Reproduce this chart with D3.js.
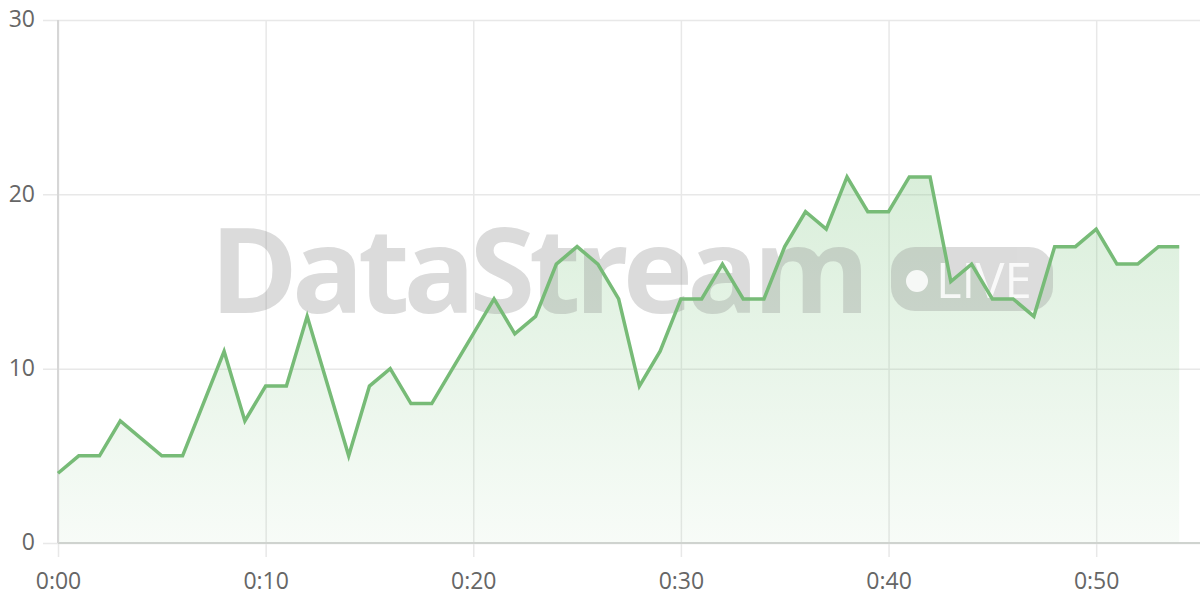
<!DOCTYPE html>
<html>
<head>
<meta charset="utf-8">
<script src="https://cdn.jsdelivr.net/npm/d3@7"></script>
<style>
	html, body { margin: 0; padding: 0; background: #fff; }
	#chart { width: 1200px; height: 600px; }
	.tick text { font-family: "Open Sans", sans-serif; font-size: 23px; fill: #666; }
</style>
</head>
<body>
<div id="chart"></div>
<script>
// values per minute, 0:00 .. 0:54
var minutes = d3.range(0, 55);
var values = [4, 5, 5, 7, 6, 5, 5, 8, 11, 7,
	9, 9, 13, 9, 5, 9, 10, 8, 8, 10,
	12, 14, 12, 13, 16, 17, 16, 14, 9, 11,
	14, 14, 16, 14, 14, 17, 19, 18, 21, 19,
	19, 21, 21, 15, 16, 14, 14, 13, 17, 17,
	18, 16, 16, 17, 17];
var xTicks = [0, 10, 20, 30, 40, 50];
var yTicks = [0, 10, 20, 30];

function fmtTime(m) {
	return Math.floor(m / 60) + ":" + d3.format("02d")(m % 60);
}

var width = 1200, height = 600;
var margin = { top: 20, right: 0, bottom: 57, left: 58 };

var svg = d3.select("#chart").append("svg")
	.attr("width", width)
	.attr("height", height);

var x = d3.scaleLinear().domain([0, 55]).range([margin.left, width - margin.right]);
var y = d3.scaleLinear().domain([0, 30]).range([height - margin.bottom, margin.top]);

var data = minutes.map(function(m, i) { return { t: m, v: values[i] }; });

// gradient for the area
var defs = svg.append("defs");
var grad = defs.append("linearGradient")
	.attr("id", "areaGrad")
	.attr("x1", 0).attr("y1", 0).attr("x2", 0).attr("y2", 1);
grad.append("stop").attr("offset", "0%").attr("stop-color", "#81c784").attr("stop-opacity", 0.3);
grad.append("stop").attr("offset", "100%").attr("stop-color", "#81c784").attr("stop-opacity", 0.06);

// horizontal grid + y labels
var yAxis = d3.axisLeft(y).tickValues(yTicks).tickSize(-(width - margin.left - margin.right)).tickPadding(8);
var gy = svg.append("g")
	.attr("transform", "translate(" + margin.left + ",0)")
	.call(yAxis);
gy.select(".domain").remove();
gy.selectAll(".tick line").attr("stroke", "#e8e8e8").attr("stroke-width", 1.5).attr("x1", -15);
gy.selectAll(".tick text").attr("x", -23).attr("dy", "0.3em");

// vertical grid + x labels
var xAxis = d3.axisBottom(x).tickValues(xTicks).tickFormat(fmtTime).tickSize(0);
var gx = svg.append("g")
	.attr("transform", "translate(0," + y(0) + ")")
	.call(xAxis);
gx.select(".domain").remove();
gx.selectAll(".tick line")
	.attr("stroke", "#e8e8e8").attr("stroke-width", 1.5)
	.attr("y1", 14).attr("y2", -(y(0) - margin.top));
gx.selectAll(".tick text").attr("y", 46).attr("dy", 0);

// area + baseline
svg.append("path")
	.datum(data)
	.attr("fill", "url(#areaGrad)")
	.attr("d", d3.area()
		.x(function(d) { return x(d.t); })
		.y0(y(0))
		.y1(function(d) { return y(d.v); }));

svg.append("line")
	.attr("x1", margin.left).attr("x2", width - margin.right)
	.attr("y1", y(0)).attr("y2", y(0))
	.attr("stroke", "#cfd3cf").attr("stroke-width", 2);
svg.append("line")
	.attr("x1", margin.left).attr("x2", margin.left)
	.attr("y1", margin.top).attr("y2", y(0))
	.attr("stroke", "#d6d6d6").attr("stroke-width", 2);

// watermark
var wm = svg.append("g").attr("opacity", 0.3);
wm.append("text")
	.attr("x", 210).attr("y", 313)
	.attr("font-family", "Open Sans, sans-serif")
	.attr("font-weight", 700)
	.attr("font-size", 119)
	.attr("letter-spacing", -6)
	.attr("fill", "#8a8a8a")
	.text("DataStream");
wm.append("rect")
	.attr("x", 891).attr("y", 247).attr("width", 162).attr("height", 64)
	.attr("rx", 24)
	.attr("fill", "#8a8a8a");
var wmBadge = svg.append("g").attr("opacity", 0.85);
wmBadge.append("circle").attr("cx", 917).attr("cy", 281).attr("r", 11).attr("fill", "#fff");
wmBadge.append("text")
	.attr("x", 936).attr("y", 298)
	.attr("font-family", "Open Sans, sans-serif")
	.attr("font-size", 49)
	.attr("fill", "#fff")
	.text("LIVE");

// line
svg.append("path")
	.datum(data)
	.attr("fill", "none")
	.attr("stroke", "#77bb77")
	.attr("stroke-width", 3.5)
	.attr("stroke-linejoin", "miter")
	.attr("d", d3.line()
		.x(function(d) { return x(d.t); })
		.y(function(d) { return y(d.v); }));
</script>
</body>
</html>
